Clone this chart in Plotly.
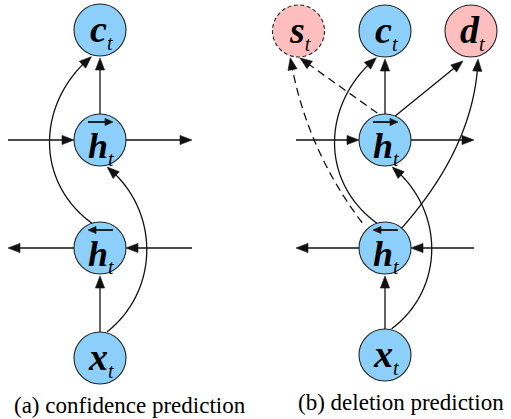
import math
import plotly.graph_objects as go

# ---------------- diagram content ----------------
panel_captions = ["(a) confidence prediction", "(b) deletion prediction"]

node_names = ["ca", "hfa", "hba", "xa", "sb", "cb", "db", "hfb", "hbb", "xb"]
node_letter = ["c", "h", "h", "x", "s", "c", "d", "h", "h", "x"]
node_overarrow = ["", "right", "left", "", "", "", "", "right", "left", ""]
node_kind = ["blue", "blue", "blue", "blue", "pink", "blue", "pink", "blue", "blue", "blue"]
node_dashed = [False, False, False, False, True, False, False, False, False, False]

straight_edges = [("hfa", "ca", "solid"), ("xa", "hba", "solid"),
                  ("hfb", "cb", "solid"), ("xb", "hbb", "solid"),
                  ("hfb", "db", "solid"), ("hfb", "sb", "dash")]
curved_edges = [("hba", "ca", "solid"), ("xa", "hfa", "solid"),
                ("hbb", "cb", "solid"), ("xb", "hfb", "solid"),
                ("hbb", "db", "solid"), ("hbb", "sb", "dash")]
# recurrent connections: node, "in"/"out", side
stubs = [("hfa", "in", "left"), ("hfa", "out", "right"),
         ("hba", "out", "left"), ("hba", "in", "right"),
         ("hfb", "in", "left"), ("hfb", "out", "right"),
         ("hbb", "out", "left"), ("hbb", "in", "right")]

# ---------------- layout / style ----------------
W, H = 511, 419
POS = {"ca": (100, 30), "hfa": (100, 140), "hba": (100, 248), "xa": (100, 358),
       "sb": (298.5, 31), "cb": (385, 31), "db": (471, 31),
       "hfb": (385, 140), "hbb": (385, 248), "xb": (385, 355)}
R = 26
FILL = {"blue": "#8CCFFB", "pink": "#FFBEBE"}
INK = "#111111"
LW = 1.3
DASH = "8px,5px"
HEAD_L, HEAD_W = 12, 4.6
STUB_LEN = {"a": 66, "b": 63}
SERIF = "Liberation Serif, Times New Roman, Times, serif"

# straight edge geometry: (start angle, start r, end angle, end r)
STRAIGHT_GEOM = {("hfb", "db"): (-67, R, 105, R + 5),
                 ("hfb", "sb"): (-106, R + 2, 87, R + 1)}
# curve geometry: (start ang, start r, end ang, end r, ctrl1 offset from start node, ctrl2 offset from end node)
CURVE_GEOM = {
    ("hba", "ca"): (-108, R, 108, R + 2, (-66, -67), (-63, 72)),
    ("xa", "hfa"): (-75, R + 1, 75, R + 2, (60, -68), (60, 70)),
    ("hbb", "cb"): (-108, R, 108, R + 2, (-66, -67), (-63, 72)),
    ("xb", "hfb"): (-76, R + 1, 75, R + 2, (60, -66), (60, 70)),
    ("hbb", "db"): (-50, R, 76, R + 3, (90, -103), None),
    ("hbb", "sb"): (-132, R + 8, 107, R + 2, (-79, -99), None),
}


def on_circle(name, ang, r):
    cx, cy = POS[name]
    a = math.radians(ang)
    return (cx + r * math.cos(a), cy + r * math.sin(a))


def fmt(pts):
    return "M " + " L ".join(f"{x:.2f},{y:.2f}" for x, y in pts)


def head_shape(tip, frm, L=HEAD_L, w=HEAD_W):
    dx, dy = tip[0] - frm[0], tip[1] - frm[1]
    n = math.hypot(dx, dy)
    ux, uy = dx / n, dy / n
    bx, by = tip[0] - L * ux, tip[1] - L * uy
    px, py = -uy, ux
    pts = [tip, (bx + w * px, by + w * py), (bx - w * px, by - w * py)]
    return dict(type="path", xref="x", yref="y",
                path=fmt(pts) + " Z", fillcolor=INK, line=dict(color=INK, width=0.6))


def line_shape(pts, style, width=LW):
    return dict(type="path", xref="x", yref="y", path=fmt(pts),
                line=dict(color=INK, width=width, dash=DASH if style == "dash" else "solid"))


def bez(P, t):
    if len(P) == 3:
        a, b, c = P
        return tuple((1 - t) ** 2 * a[i] + 2 * t * (1 - t) * b[i] + t * t * c[i] for i in range(2))
    a, b, c, d = P
    return tuple((1 - t) ** 3 * a[i] + 3 * t * (1 - t) ** 2 * b[i] + 3 * t * t * (1 - t) * c[i] + t ** 3 * d[i]
                 for i in range(2))


shapes = []
annotations = []

# circles
for name, kind, dashed in zip(node_names, node_kind, node_dashed):
    cx, cy = POS[name]
    shapes.append(dict(type="circle", xref="x", yref="y", x0=cx - R, x1=cx + R, y0=cy - R, y1=cy + R,
                       fillcolor=FILL[kind],
                       line=dict(color="#222222", width=1.1, dash="4px,2.5px" if dashed else "solid")))

# straight edges
for a, b, style in straight_edges:
    sa, sr, ea, er = STRAIGHT_GEOM.get((a, b), (-90, R, 90, R + 2))
    p0 = on_circle(a, sa, sr)
    tip = on_circle(b, ea, er)
    dx, dy = tip[0] - p0[0], tip[1] - p0[1]
    n = math.hypot(dx, dy)
    end = (tip[0] - dx / n * HEAD_L * 0.6, tip[1] - dy / n * HEAD_L * 0.6)
    shapes.append(line_shape([p0, end], style))
    shapes.append(head_shape(tip, p0))

# curved edges
for a, b, style in curved_edges:
    sa, sr, ea, er, c1, c2 = CURVE_GEOM[(a, b)]
    p0 = on_circle(a, sa, sr)
    tip = on_circle(b, ea, er)
    ax_, ay_ = POS[a]
    bx_, by_ = POS[b]
    C1 = (ax_ + c1[0], ay_ + c1[1])
    if c2 is None:
        P = [p0, C1, tip]
    else:
        P = [p0, C1, (bx_ + c2[0], by_ + c2[1]), tip]
    samples = [bez(P, i / 300) for i in range(301)]
    pts, back = [], None
    for s in samples:
        d = math.hypot(s[0] - tip[0], s[1] - tip[1])
        if d >= HEAD_L * 0.6:
            pts.append(s)
        if back is None and d <= HEAD_L:
            back = s
    shapes.append(line_shape(pts, style))
    shapes.append(head_shape(tip, back))

# recurrent stubs
for name, direction, side in stubs:
    cx, cy = POS[name]
    L = STUB_LEN[name[-1]]
    sgn = -1 if side == "left" else 1
    edge = (cx + sgn * R, cy)
    outer = (cx + sgn * (R + L), cy)
    if direction == "in":
        start, tip = outer, edge
    else:
        start, tip = edge, outer
    end = (tip[0] - sgn * (-1 if direction == "in" else 1) * HEAD_L * 0.6, cy)
    shapes.append(line_shape([start, end], "solid"))
    shapes.append(head_shape(tip, start))

# labels & over-arrows
for name, letter, ov in zip(node_names, node_letter, node_overarrow):
    cx, cy = POS[name]
    annotations.append(dict(
        x=cx + 1, y=cy + (8 if ov else 1), xref="x", yref="y", showarrow=False,
        xanchor="center", yanchor="middle",
        text=f"<b><i>{letter}</i></b><sub><span style='font-size:20px'><i>t</i></span></sub>",
        font=dict(family=SERIF, size=(36 if ov else 38), color="#000000")))
    if ov:
        y = cy - 18
        if ov == "right":
            s, t = (cx - 12, y), (cx + 13, y)
        else:
            s, t = (cx + 13, y), (cx - 12, y)
        dx = 1 if ov == "right" else -1
        shapes.append(line_shape([s, (t[0] - dx * 5, y)], "solid", width=1.8))
        shapes.append(head_shape(t, s, L=8, w=3.6))

# captions
cap_pos = [(130, 405.5), (401, 402)]
for cap, (x, y) in zip(panel_captions, cap_pos):
    annotations.append(dict(x=x, y=y, xref="x", yref="y", showarrow=False, xanchor="center",
                            yanchor="middle", text=cap, borderpad=0,
                            font=dict(family=SERIF, size=23, color="#000000")))

fig = go.Figure()
fig.update_layout(
    width=W, height=H, margin=dict(l=0, r=0, t=0, b=0),
    paper_bgcolor="white", plot_bgcolor="white",
    font=dict(family=SERIF),
    xaxis=dict(range=[0, W], visible=False, fixedrange=True),
    yaxis=dict(range=[H, 0], visible=False, fixedrange=True),
    shapes=shapes, annotations=annotations, showlegend=False,
)
fig.write_html("out.html", config={"displayModeBar": False},
               post_script="document.body.style.margin='0';document.body.style.padding='0';")
